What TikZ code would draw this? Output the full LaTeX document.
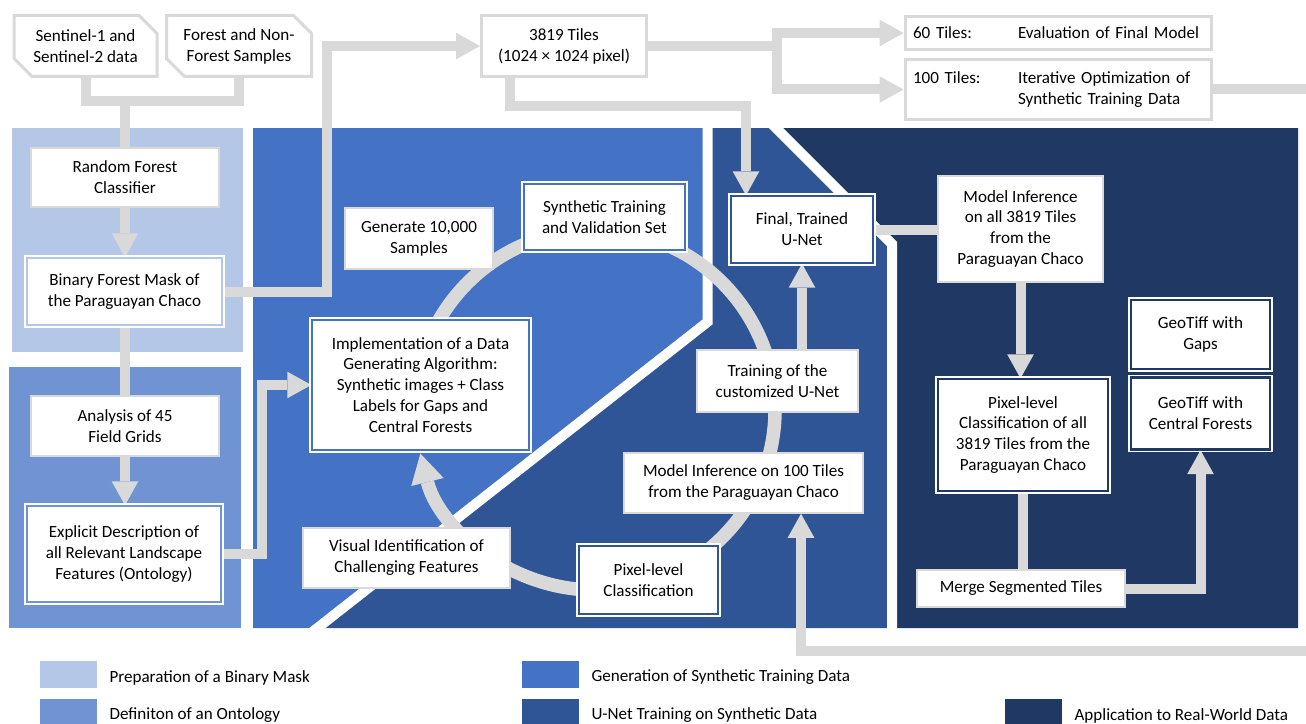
\documentclass[tikz,border=0pt]{standalone}
\usepackage{fontspec}
\setmainfont{Carlito}
\usetikzlibrary{arrows.meta,shapes.misc,positioning}

\newlength\px
\setlength\px{0.75pt}

\definecolor{lgray}{HTML}{D9D9D9}
\definecolor{cPrep}{HTML}{B4C7E7}
\definecolor{cOnto}{HTML}{7094D3}
\definecolor{cGen}{HTML}{4472C4}
\definecolor{cTrain}{HTML}{2F5597}
\definecolor{cApp}{HTML}{203864}

\pgfdeclarelayer{back}
\pgfdeclarelayer{links}
\pgfsetlayers{back,links,main}

\begin{document}
\begin{tikzpicture}[
  x=0.75pt, y=-0.75pt,
  font=\fontsize{12.8}{15.7}\selectfont,
  stepbox/.style={draw=lgray, line width=1.5\px, fill=white, align=center, inner sep=2pt},
  tilebox/.style={draw=lgray, line width=3\px, fill=white, align=center, inner sep=2pt},
  databox/.style={tilebox, chamfered rectangle,
    chamfered rectangle corners={north east,south west},
    chamfered rectangle sep=9\px},
  keybox/.style={draw=white, double=#1, double distance=2.2pt, line width=1pt,
    fill=white, align=center, inner sep=2pt},
  flow/.style={draw=lgray, line width=10\px},
  flowarrow/.style={flow, -{Triangle[width=20pt, length=18pt, line width=0pt]}},
  loopring/.style={draw=lgray, line width=13.5\px,
    -{Triangle[width=25pt, length=22pt, line width=0pt]}},
  legkey/.style={minimum width=57\px, minimum height=27\px, inner sep=0pt},
  legtext/.style={inner sep=0pt, anchor=west}
  ]
  % 画布范围
  \useasboundingbox (0,0) rectangle (1306,724);

  % 背景区域
  \begin{pgfonlayer}{back}
    \fill[cPrep] (12,128) rectangle (243,352);
    \fill[cOnto] (9,367) rectangle (241,628);
    \fill[cGen] (253,128) -- (707.5,128) -- (707.5,322) -- (317,628) -- (253,628) -- cycle;
    \fill[cTrain] (707.5,128) -- (776,128) -- (892,244) -- (892,628) -- (317,628) -- (707.5,322) -- cycle;
    \fill[cApp] (776,128) -- (1298,128) -- (1298,628) -- (892,628) -- (892,244) -- cycle;
    % 白色分隔线
    \begin{scope}
      \clip (253,128) rectangle (1298,628);
      \draw[white, line width=10\px] (707.5,110) -- (707.5,322) -- (297,644);
      \draw[white, line width=10\px] (758,110) -- (892,244) -- (892,650);
    \end{scope}
  \end{pgfonlayer}

  % 输入数据
  \node[databox, minimum width=143\px, minimum height=61\px] (sentinel) at (85.5,46) {Sentinel-1 and\\Sentinel-2 data};
  \node[databox, minimum width=145\px, minimum height=61\px] (forest) at (239,46) {Forest and Non-\\Forest Samples};
  \node[tilebox, minimum width=165\px, minimum height=61\px] (tiles) at (564,46) {3819 Tiles\\(1024 × 1024 pixel)};
  \node[tilebox, align=left, text width=290\px, inner xsep=8\px, minimum height=33\px] (sixty) at (1058,33)
    {\makebox[105\px][l]{60 Tiles:}Evaluation of Final Model};
  \node[tilebox, align=left, text width=290\px, inner xsep=8\px, minimum height=60\px] (hundred) at (1058,89.5)
    {\makebox[105\px][l]{100 Tiles:}Iterative Optimization of\\\hspace*{105\px}Synthetic Training Data};

  % 二值掩膜与本体
  \node[stepbox, minimum width=188\px, minimum height=59\px] (rf) at (125,177.5) {Random Forest\\Classifier};
  \node[keybox=cPrep, minimum width=195\px, minimum height=67\px] (mask) at (124.5,291.5) {Binary Forest Mask of\\the Paraguayan Chaco};
  \node[stepbox, minimum width=188\px, minimum height=60\px] (fields) at (125,426) {Analysis of 45\\Field Grids};
  \node[keybox=cOnto, minimum width=194\px, minimum height=96\px] (onto) at (124,554) {Explicit Description of\\all Relevant Landscape\\Features (Ontology)};

  % 合成训练数据
  \node[stepbox, minimum width=148\px, minimum height=61\px] (gen) at (419,238.5) {Generate 10,000\\Samples};
  \node[keybox=cGen, minimum width=161\px, minimum height=66\px] (synth) at (604.5,217) {Synthetic Training\\and Validation Set};
  \node[keybox=cGen, minimum width=217\px, minimum height=130\px] (impl) at (420.5,385)
    {Implementation of a Data\\Generating Algorithm:\\Synthetic images + Class\\Labels for Gaps and\\Central Forests};
  \node[stepbox, minimum width=207\px, minimum height=60\px] (visual) at (406.5,558) {Visual Identification of\\Challenging Features};

  % U-Net 训练
  \node[keybox=cTrain, minimum width=139\px, minimum height=68\px] (pixcls) at (648.5,580) {Pixel-level\\Classification};
  \node[keybox=cTrain, minimum width=142\px, minimum height=67\px] (unet) at (802,229.5) {Final, Trained\\U-Net};
  \node[stepbox, minimum width=161\px, minimum height=62\px] (train) at (777.5,381) {Training of the\\customized U-Net};
  \node[stepbox, minimum width=239\px, minimum height=60\px] (infer100) at (743.5,483) {Model Inference on 100 Tiles\\from the Paraguayan Chaco};

  % 实际数据应用
  \node[stepbox, minimum width=165\px, minimum height=106\px] (inferall) at (1020.5,229) {Model Inference\\on all 3819 Tiles\\from the\\Paraguayan Chaco};
  \node[keybox=cApp, minimum width=170\px, minimum height=112\px] (pixall) at (1023,435) {Pixel-level\\Classification of all\\3819 Tiles from the\\Paraguayan Chaco};
  \node[stepbox, minimum width=208\px, minimum height=37\px] (merge) at (1021,588.5) {Merge Segmented Tiles};
  \node[keybox=cApp, minimum width=139\px, minimum height=69\px] (gaps) at (1200.5,334.5) {GeoTiff with\\Gaps};
  \node[keybox=cApp, minimum width=139\px, minimum height=72\px] (central) at (1200.5,413.5) {GeoTiff with\\Central Forests};

  % 折线拐点
  \coordinate (join) at (125,101);
  \coordinate (hop1) at (327,200);
  \coordinate (hop2) at (262,470);
  \coordinate (hop3) at (777,60);
  \coordinate (hop4) at (746,106);
  \coordinate (hop5) at (1325,300);
  \coordinate (hop6) at (801,651);
  \coordinate (ringc) at (595,410);

  % 连接线
  \begin{pgfonlayer}{links}
    \draw[flow] (sentinel.south) |- (join) -| (forest.south);
    \draw[flow] (join) -- (rf.north);
    \draw[flowarrow] (rf.south) -- (rf.south |- mask.north);
    \draw[flow] (mask.south) -- (mask.south |- fields.north);
    \draw[flowarrow] (fields.south) -- (fields.south |- onto.north);
    \draw[flowarrow] (mask.east) -| (hop1) |- (tiles.west);
    \draw[flowarrow] (onto.east) -| (hop2) |- (impl.west);
    \draw[flowarrow] (tiles.east) -| (hop3) |- (sixty.west);
    \draw[flowarrow] (tiles.east) -| (hop3) |- (hundred.west);
    \draw[flowarrow] ([xshift=-54\px]tiles.south) |- (hop4) -- (hop4 |- unet.north);
    \draw[flow] (unet.east) -- (unet.east -| inferall.west);
    \draw[flowarrow] (train.north -| unet.south) -- (unet.south);
    \draw[flowarrow] (inferall.south) -- (inferall.south |- pixall.north);
    \draw[flow] (pixall.south) -- (pixall.south |- merge.north);
    \draw[flowarrow] (merge.east) -| (central.south);
    \draw[flowarrow] (hundred.east) -| (hop5) |- (hop6) -- (hop6 |- infer100.south);
    % 迭代循环
    \draw[loopring] ([shift={(190:180)}]ringc) arc[start angle=190, end angle=526, radius=180];
  \end{pgfonlayer}

  % 图例
  \node[legkey, fill=cPrep] (kPrep) at (68.5,674.5) {};
  \node[legtext, right=12\px of kPrep, yshift=-3\px] (tPrep) {Preparation of a Binary Mask};
  \node[legkey, fill=cOnto] (kOnto) at (68.5,712.5) {};
  \node[legtext, right=12\px of kOnto, yshift=-3\px] (tOnto) {Definiton of an Ontology};
  \node[legkey, fill=cGen] (kGen) at (550.5,674.5) {};
  \node[legtext, right=12\px of kGen, yshift=-3\px] (tGen) {Generation of Synthetic Training Data};
  \node[legkey, fill=cTrain] (kTrain) at (550.5,712.5) {};
  \node[legtext, right=12\px of kTrain, yshift=-3\px] (tTrain) {U-Net Training on Synthetic Data};
  \node[legkey, fill=cApp] (kApp) at (1033.5,712.5) {};
  \node[legtext, right=12\px of kApp, yshift=-3\px] (tApp) {Application to Real-World Data};
\end{tikzpicture}
\end{document}
